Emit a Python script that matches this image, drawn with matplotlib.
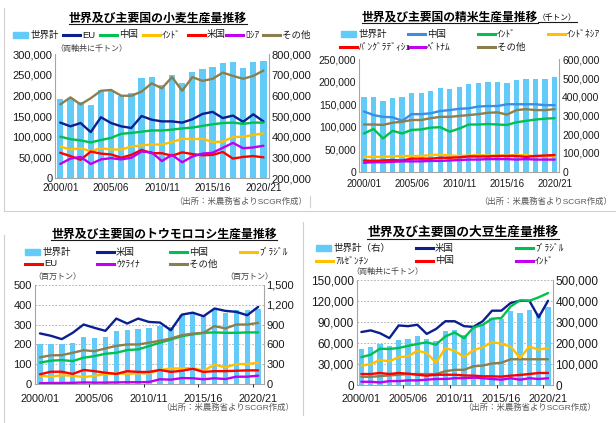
import matplotlib
matplotlib.use("Agg")
import matplotlib.pyplot as plt
from matplotlib.lines import Line2D
from matplotlib.patches import Rectangle
from matplotlib.ticker import StrMethodFormatter
import numpy as np

plt.rcParams['font.family'] = ['Liberation Sans', 'Noto Sans CJK JP', 'DejaVu Sans']

W, H = 616, 423

# 2000/01 .. 2020/21 (21 seasons)
tick_pos = [0, 5, 10, 15, 20]
tick_labels = ['2000/01', '2005/06', '2010/11', '2015/16', '2020/21']

# wheat, thousand t
wheat_world = [581, 583, 567, 555, 627, 619, 595, 610, 683, 687, 650, 698, 660, 714, 728, 736, 755, 763, 731, 763, 765]
wheat_eu = [134, 125, 133, 111, 147, 133, 125, 121, 150, 141, 137, 137, 134, 142, 155, 160, 145, 151, 136, 154, 137]
wheat_china = [100, 94, 91, 86, 92, 97, 107, 109, 112, 115, 115, 117, 120, 122, 126, 130, 133, 134, 131, 134, 134]
wheat_india = [76, 69, 72, 65, 72, 69, 69, 76, 79, 81, 81, 87, 95, 94, 95, 87, 88, 99, 100, 104, 108]
wheat_us = [61, 53, 44, 64, 59, 57, 49, 56, 68, 60, 60, 54, 62, 58, 55, 56, 63, 47, 51, 53, 50]
wheat_russia = [34, 47, 51, 34, 45, 48, 45, 49, 64, 62, 41, 56, 38, 52, 59, 61, 73, 85, 72, 74, 78]
wheat_other = [178, 195, 178, 193, 211, 213, 199, 199, 209, 229, 217, 244, 211, 244, 235, 240, 255, 247, 240, 247, 260]

# rice, thousand t
rice_world = [399, 400, 379, 392, 401, 418, 420, 433, 449, 441, 450, 467, 472, 478, 478, 472, 490, 495, 497, 497, 505]
rice_china = [134, 126, 122, 121, 113, 128, 128, 130, 135, 137, 140, 141, 145, 146, 146, 150, 150, 150, 150, 148, 148]
rice_india = [85, 95, 74, 91, 85, 93, 94, 98, 99, 89, 96, 105, 105, 106, 105, 104, 110, 113, 116, 118, 119]
rice_indonesia = [33, 33, 33, 34, 35, 35, 35, 37, 38, 36, 35, 36, 37, 36, 36, 36, 37, 37, 34, 35, 35]
rice_bangladesh = [25, 24, 25, 26, 25, 29, 29, 29, 31, 31, 32, 34, 34, 34, 35, 35, 35, 33, 35, 36, 37]
rice_vietnam = [20, 21, 21, 22, 23, 23, 23, 24, 24, 25, 26, 27, 27, 28, 28, 28, 27, 28, 27, 27, 27]
rice_other = [105, 105, 104, 109, 111, 115, 115, 119, 122, 122, 124, 126, 128, 131, 132, 127, 137, 139, 137, 137, 139]

# corn, million t
corn_world = [597, 597, 597, 627, 713, 689, 713, 805, 814, 834, 849, 880, 868, 1040, 1070, 1026, 1127, 1082, 1117, 1117, 1142]
corn_us = [255, 243, 226, 258, 300, 283, 268, 330, 305, 330, 313, 310, 271, 350, 360, 342, 381, 369, 364, 347, 389]
corn_china = [107, 117, 120, 115, 132, 140, 152, 157, 171, 174, 191, 208, 224, 241, 250, 258, 260, 258, 258, 260, 260]
corn_brazil = [41, 36, 43, 41, 34, 40, 50, 53, 51, 53, 53, 70, 78, 78, 80, 66, 97, 83, 100, 100, 107]
corn_eu = [48, 61, 61, 50, 70, 64, 56, 50, 64, 60, 60, 70, 60, 66, 76, 60, 64, 64, 66, 68, 68]
corn_ukraine = [3, 4, 4, 5, 7, 6, 6, 7, 8, 8, 9, 23, 21, 29, 28, 23, 28, 24, 36, 36, 41]
corn_other = [134, 144, 145, 157, 170, 165, 179, 192, 199, 199, 208, 218, 229, 246, 254, 258, 292, 280, 300, 300, 308]

# soybean, thousand t
soy_world = [173, 181, 196, 185, 214, 218, 232, 218, 211, 259, 263, 240, 271, 284, 319, 315, 350, 341, 358, 342, 369]
soy_us = [75.7, 78, 74, 67, 85, 84, 86, 73, 80, 91, 91, 84, 83, 91, 106, 106, 117, 120, 120, 96.5, 120]
soy_brazil = [40, 43.5, 52, 51.6, 53, 56, 58.7, 61, 57.7, 69.5, 75, 67, 82, 86, 94.6, 95.6, 112, 120.7, 120, 125, 131]
soy_argentina = [28, 30, 36, 34, 40, 41, 49, 46, 32, 53, 49, 40, 50, 54, 61.5, 59, 55, 39, 55, 50.6, 53]
soy_china = [16, 16, 17.5, 16, 17.5, 16.5, 15, 13.7, 15, 15, 15, 14, 13.7, 12.8, 12.8, 12.3, 13.7, 14.7, 16, 17.5, 17.5]
soy_india = [5, 5, 4, 6, 6, 7, 7, 8, 9, 9, 10, 10, 11, 10, 9, 8, 10, 8, 10, 9, 10]
soy_other = [12, 12, 13, 14, 15, 16, 16, 16, 16, 20, 22, 22, 27, 28, 31, 32, 37, 37, 37, 37, 37]

BAR = '#63CBF7'
NAVY = '#0B1F8F'
GREEN = '#00C050'
ORANGE = '#FFC000'
RED = '#FF0000'
PURPLE = '#C000F0'
BROWN = '#8C7F4F'
SKY = '#3A8EE6'
GRID = '#A6A6A6'

fig = plt.figure(figsize=(6.16, 4.23), dpi=100)


def fx(px):
    return px / W


def fy(py):
    return 1 - py / H


def panel(box, world, series, left_ticks, right_ticks, bar_w, ysize, xsize, xpad,
          grid=True, scale=1000):
    x0, x1, y0, y1 = box
    ax = fig.add_axes([fx(x0), fy(y1), (x1 - x0) / W, (y1 - y0) / H])
    ax2 = ax.twinx()
    x = np.arange(len(world))
    ax2.bar(x, np.array(world) * scale, width=bar_w, color=BAR, zorder=2)
    for vals, color in series:
        ax.plot(x, np.array(vals) * scale, color=color, lw=1.7, solid_capstyle='round')
    ax.set_zorder(ax2.get_zorder() + 1)
    ax.patch.set_visible(False)
    ax.set_xlim(-0.5, len(world) - 0.5)
    ax.set_ylim(left_ticks[0], left_ticks[-1])
    ax2.set_ylim(right_ticks[0], right_ticks[-1])
    ax.set_yticks(left_ticks)
    ax2.set_yticks(right_ticks)
    ax.yaxis.set_major_formatter(StrMethodFormatter('{x:,.0f}'))
    ax2.yaxis.set_major_formatter(StrMethodFormatter('{x:,.0f}'))
    ax.set_xticks(tick_pos)
    ax.set_xticklabels(tick_labels)
    ax.tick_params(axis='y', length=0, pad=2, labelsize=ysize, colors='#1a1a1a')
    ax2.tick_params(axis='y', length=0, pad=2, labelsize=ysize, colors='#1a1a1a')
    ax.tick_params(axis='x', length=0, pad=xpad, labelsize=xsize, colors='#1a1a1a')
    for s in ax.spines.values():
        s.set_visible(False)
    for name, s in ax2.spines.items():
        s.set_color(GRID)
        s.set_linewidth(0.8)
    ax2.spines['top'].set_visible(False)
    if grid:
        ax2.set_xticks([4.5, 9.5, 14.5, 19.5], minor=True)
        ax2.tick_params(axis='x', which='minor', length=0)
        ax2.grid(True, which='minor', axis='x', color=GRID, ls=(0, (2, 2)), lw=0.6, zorder=0)
        ax2.grid(True, which='major', axis='y', color=GRID, ls=(0, (2, 2)), lw=0.6, zorder=0)
        ax2.set_axisbelow(True)
    return ax, ax2


def key(x0, y, label, color, bar=False):
    if bar:
        fig.add_artist(Rectangle((fx(x0), fy(y + 3)), 15 / W, 6 / H, color=color,
                                 transform=fig.transFigure))
        tx = x0 + 18
    else:
        fig.add_artist(Line2D([fx(x0), fx(x0 + 17)], [fy(y), fy(y)], color=color, lw=2.2,
                              transform=fig.transFigure))
        tx = x0 + 19
    fig.text(fx(tx), fy(y), label, fontsize=6.8, va='center', ha='left', color='#1a1a1a')


def note(x, y, s, ha='left', size=5.8, color='#404040'):
    fig.text(fx(x), fy(y), s, fontsize=size, ha=ha, va='center', color=color)


# --- wheat
panel((55.2, 268.5, 54, 178), wheat_world,
      [(wheat_eu, NAVY), (wheat_china, GREEN), (wheat_india, ORANGE), (wheat_us, RED),
       (wheat_russia, PURPLE), (wheat_other, BROWN)],
      [0, 50000, 100000, 150000, 200000, 250000, 300000],
      [200000, 300000, 400000, 500000, 600000, 700000, 800000],
      0.62, 8, 7.2, 3.4, grid=False)

# --- rice
panel((359.2, 559.4, 59.3, 171.7), rice_world,
      [(rice_china, SKY), (rice_india, GREEN), (rice_indonesia, ORANGE),
       (rice_bangladesh, RED), (rice_vietnam, PURPLE), (rice_other, BROWN)],
      [0, 50000, 100000, 150000, 200000, 250000],
      [0, 100000, 200000, 300000, 400000, 500000, 600000],
      0.55, 7.5, 7, 5.5, grid=False)

# --- corn
panel((34.5, 263.6, 285, 383.8), corn_world,
      [(corn_us, NAVY), (corn_china, GREEN), (corn_brazil, ORANGE), (corn_eu, RED),
       (corn_ukraine, PURPLE), (corn_other, BROWN)],
      [0, 100, 200, 300, 400, 500],
      [0, 300, 600, 900, 1200, 1500],
      0.5, 8, 7.8, 7, scale=1)

# --- soybean
panel((356.7, 552.7, 279.7, 385.3), soy_world,
      [(soy_other, BROWN), (soy_us, NAVY), (soy_brazil, GREEN), (soy_argentina, ORANGE),
       (soy_china, RED), (soy_india, PURPLE)],
      [0, 30000, 60000, 90000, 120000, 150000],
      [0, 100000, 200000, 300000, 400000, 500000],
      0.55, 8.5, 7.8, 6.5)

# legends
key(13, 35, '世界計', BAR, bar=True)
key(63, 35, 'EU', NAVY)
key(100, 35, '中国', GREEN)
key(143, 35, 'ｲﾝﾄﾞ', ORANGE)
key(188, 35, '米国', RED)
key(226, 35, 'ﾛｼｱ', PURPLE)
key(263, 35, 'その他', BROWN)

key(341, 34, '世界計', BAR, bar=True)
key(408, 34, '中国', SKY)
key(478, 34, 'ｲﾝﾄﾞ', GREEN)
key(548, 34, 'ｲﾝﾄﾞﾈｼｱ', ORANGE)
key(340, 47, 'ﾊﾞﾝｸﾞﾗﾃﾞｨｼｭ', RED)
key(408, 47, 'ﾍﾞﾄﾅﾑ', PURPLE)
key(478, 47, 'その他', BROWN)

key(25, 252, '世界計', BAR, bar=True)
key(97, 252, '米国', NAVY)
key(170, 252, '中国', GREEN)
key(240, 252, 'ﾌﾞﾗｼﾞﾙ', ORANGE)
key(25, 264, 'EU', RED)
key(97, 264, 'ｳｸﾗｲﾅ', PURPLE)
key(170, 264, 'その他', BROWN)

key(316, 248, '世界計（右）', BAR, bar=True)
key(416, 248, '米国', NAVY)
key(516, 248, 'ﾌﾞﾗｼﾞﾙ', GREEN)
key(316, 261, 'ｱﾙｾﾞﾝﾁﾝ', ORANGE)
key(416, 261, '中国', RED)
key(516, 261, 'ｲﾝﾄﾞ', PURPLE)

# unit notes and sources
note(55, 49, '（両軸共に千トン）')
note(351, 272, '（両軸共に千トン）')
note(33, 277, '（百万トン）')
note(225, 277, '（百万トン）')
src = '（出所：米農務省よりSCGR作成）'
note(307, 202, src, ha='right', size=6, color='#595959')
note(612, 202, src, ha='right', size=6, color='#595959')
note(294, 408, src, ha='right', size=6, color='#595959')
note(596, 408, src, ha='right', size=6, color='#595959')

# titles
titles = [
    fig.text(fx(158), fy(19), '世界及び主要国の小麦生産量推移', ha='center', va='center',
             fontsize=8.6, fontweight='bold'),
    fig.text(fx(538), fy(18), '世界及び主要国の精米生産量推移', ha='right', va='center',
             fontsize=8.5, fontweight='bold'),
    fig.text(fx(538), fy(18.5), '（千トン）', ha='left', va='center', fontsize=5.6),
    fig.text(fx(164), fy(235), '世界及び主要国のトウモロコシ生産量推移', ha='center', va='center',
             fontsize=8.6, fontweight='bold'),
    fig.text(fx(463), fy(233), '世界及び主要国の大豆生産量推移', ha='center', va='center',
             fontsize=9.2, fontweight='bold'),
]
fig.canvas.draw()
for t in titles:
    bb = t.get_window_extent()
    y = (bb.y0 + 0.5) / fig.bbox.height
    fig.add_artist(Line2D([bb.x0 / fig.bbox.width, bb.x1 / fig.bbox.width], [y, y],
                          color='#1a1a1a', lw=0.8, transform=fig.transFigure))

# faint panel frames
frame = '#D0D0D0'
for (xa, ya, xb, yb) in [(4, 8, 4, 211), (4, 211, 616, 211), (4, 235, 4, 423),
                         (303, 222, 303, 415), (310, 196, 310, 207)]:
    fig.add_artist(Line2D([fx(xa), fx(xb)], [fy(ya), fy(yb)], color=frame, lw=0.8,
                          transform=fig.transFigure))

fig.savefig('out.png', dpi=100)
